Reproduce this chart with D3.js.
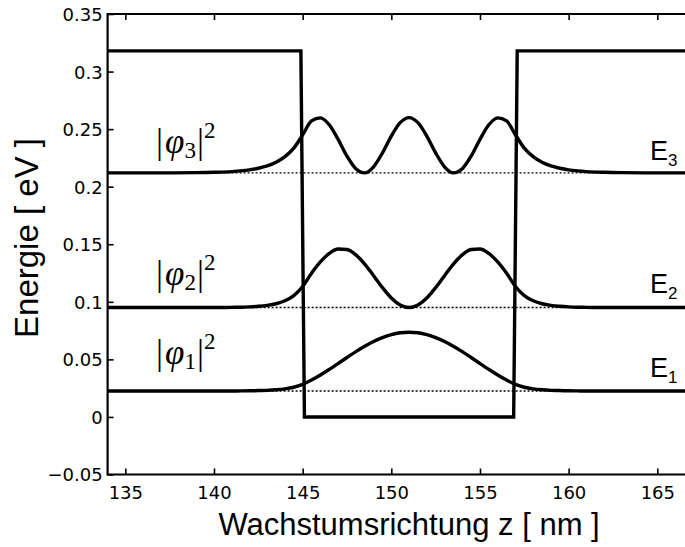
<!DOCTYPE html>
<html>
<head>
<meta charset="utf-8">
<script src="https://cdn.jsdelivr.net/npm/d3@7"></script>
<style>
  html, body { margin: 0; padding: 0; background: #fff; }
  svg { display: block; }
</style>
</head>
<body>
<svg id="chart" width="685" height="547"></svg>
<script>
// Growth-direction coordinate z [nm] shared by all curves
const zPos = [134, 137, 139, 140, 141, 141.5, 142, 142.5, 143, 143.5, 144, 144.5, 145,
  145.5, 146, 146.5, 147, 147.5, 148, 148.5, 149, 149.5, 150, 150.5, 151,
  151.5, 152, 152.5, 153, 153.5, 154, 154.5, 155, 155.5, 156, 156.5, 157,
  157.5, 158, 158.5, 159, 159.5, 160, 160.5, 161, 162, 163, 165, 168];

// |phi_n|^2 drawn on top of its level E_n [eV]
const psi1 = [0.0225, 0.0225, 0.0225, 0.0225, 0.0225, 0.0226, 0.0227, 0.0229, 0.0231, 0.0236, 0.0244, 0.0258, 0.0283,
  0.0320, 0.0364, 0.0413, 0.0464, 0.0516, 0.0567, 0.0614, 0.0655, 0.0689, 0.0715, 0.0731, 0.0736,
  0.0731, 0.0715, 0.0689, 0.0655, 0.0614, 0.0567, 0.0516, 0.0464, 0.0413, 0.0364, 0.0320, 0.0283,
  0.0258, 0.0244, 0.0236, 0.0231, 0.0229, 0.0227, 0.0226, 0.0225, 0.0225, 0.0225, 0.0225, 0.0225];
const psi2 = [0.0950, 0.0950, 0.0950, 0.0950, 0.0952, 0.0953, 0.0956, 0.0961, 0.0969, 0.0983, 0.1009, 0.1054, 0.1133,
  0.1248, 0.1346, 0.1420, 0.1459, 0.1454, 0.1408, 0.1328, 0.1227, 0.1123, 0.1033, 0.0972, 0.0950,
  0.0972, 0.1033, 0.1123, 0.1227, 0.1328, 0.1408, 0.1454, 0.1459, 0.1420, 0.1346, 0.1248, 0.1133,
  0.1054, 0.1009, 0.0983, 0.0969, 0.0961, 0.0956, 0.0953, 0.0952, 0.0950, 0.0950, 0.0950, 0.0950];
const psi3 = [0.2120, 0.2120, 0.2122, 0.2125, 0.2131, 0.2137, 0.2146, 0.2160, 0.2180, 0.2212, 0.2261, 0.2335, 0.2450,
  0.2571, 0.2598, 0.2538, 0.2411, 0.2265, 0.2156, 0.2120, 0.2173, 0.2294, 0.2440, 0.2556, 0.2600,
  0.2556, 0.2440, 0.2294, 0.2173, 0.2120, 0.2156, 0.2265, 0.2411, 0.2538, 0.2598, 0.2571, 0.2450,
  0.2335, 0.2261, 0.2212, 0.2180, 0.2160, 0.2146, 0.2137, 0.2131, 0.2125, 0.2122, 0.2120, 0.2120];

// Band-edge potential of the quantum well
const potZ = [134, 144.9, 145.1, 156.9, 157.1, 168];
const potV = [0.318, 0.318, 0, 0, 0.318, 0.318];

// Bound-state energies E1..E3 [eV]
const levels = [0.0225, 0.095, 0.212];
const levelNames = ["1", "2", "3"];

// Axis ticks
const xTicks = [135, 140, 145, 150, 155, 160, 165];
const yTicks = [-0.05, 0, 0.05, 0.1, 0.15, 0.2, 0.25, 0.3, 0.35];

const svg = d3.select("#chart");
const x = d3.scaleLinear().domain([134, 168]).range([107.6, 710.5]);
const y = d3.scaleLinear().domain([-0.05, 0.35]).range([474.5, 14]);
const x0 = x.range()[0], x1 = x.range()[1];
const yB = y.range()[0], yT = y.range()[1];

const plot = svg.append("g");

// dotted energy levels
plot.selectAll("line.level").data(levels).join("line")
  .attr("class", "level")
  .attr("x1", x(134)).attr("x2", x(168))
  .attr("y1", d => y(d)).attr("y2", d => y(d))
  .attr("stroke", "#000").attr("stroke-width", 1.4)
  .attr("stroke-dasharray", "2,2");

const line = d3.line().x(d => x(d[0])).y(d => y(d[1]));

// potential profile
plot.append("path")
  .datum(d3.zip(potZ, potV))
  .attr("d", line)
  .attr("fill", "none").attr("stroke", "#000").attr("stroke-width", 3.4)
  .attr("stroke-linejoin", "miter");

// probability densities
const smooth = d3.line().x(d => x(d[0])).y(d => y(d[1])).curve(d3.curveMonotoneX);
[psi1, psi2, psi3].forEach(p => {
  plot.append("path")
    .datum(d3.zip(zPos, p))
    .attr("d", smooth)
    .attr("fill", "none").attr("stroke", "#000").attr("stroke-width", 3.4)
    .attr("stroke-linejoin", "round");
});

// axes (box with inward ticks)
const tickFont = "DejaVu Sans, sans-serif";
const axL = svg.append("g").attr("transform", `translate(${x0},0)`)
  .call(d3.axisLeft(y).tickValues(yTicks).tickSizeInner(-6).tickSizeOuter(0).tickPadding(5)
    .tickFormat(d => d3.format("")(+d.toFixed(2))));
const axB = svg.append("g").attr("transform", `translate(0,${yB})`)
  .call(d3.axisBottom(x).tickValues(xTicks).tickSizeInner(-6).tickSizeOuter(0).tickPadding(12));
const axT = svg.append("g").attr("transform", `translate(0,${yT})`)
  .call(d3.axisTop(x).tickValues(xTicks).tickSizeInner(-6).tickSizeOuter(0).tickFormat(""));
[axL, axB, axT].forEach(a => {
  a.select(".domain").remove();
  a.selectAll(".tick line").attr("stroke", "#000").attr("stroke-width", 1.6);
  a.selectAll(".tick text").attr("fill", "#000").style("font-family", tickFont).style("font-size", "18px");
});
axL.selectAll(".tick text").attr("dy", "0.36em");

// frame
svg.append("path")
  .attr("d", `M${x1},${yT}H${x0}V${yB}H${x1}`)
  .attr("fill", "none").attr("stroke", "#000").attr("stroke-width", 2.2);

// axis titles
svg.append("text")
  .attr("transform", `translate(38,238) rotate(-90)`)
  .attr("text-anchor", "middle")
  .style("font-family", "Liberation Sans, Arial, sans-serif").style("font-size", "33px")
  .text("Energie [ eV ]");
svg.append("text")
  .attr("x", (x0 + x1) / 2).attr("y", 535)
  .attr("text-anchor", "middle")
  .style("font-family", "Liberation Sans, Arial, sans-serif").style("font-size", "31px")
  .text("Wachstumsrichtung z [ nm ]");

// |phi_n|^2 labels
const phiBase = [364, 285, 153];
levelNames.forEach((n, i) => {
  const t = svg.append("text")
    .attr("x", 156).attr("y", phiBase[i])
    .style("font-family", "Liberation Serif, 'DejaVu Serif', serif").style("font-size", "35px");
  t.append("tspan").text("|");
  t.append("tspan").style("font-style", "italic").attr("dx", 2).text("φ");
  t.append("tspan").style("font-size", "23px").attr("dy", 5).text(n);
  t.append("tspan").attr("dy", -5).attr("dx", 1).text("|");
  t.append("tspan").style("font-size", "23px").attr("dy", -15).text("2");
});

// E_n labels
const eBase = [377, 293, 160];
levels.forEach((lv, i) => {
  const t = svg.append("text")
    .attr("x", 650).attr("y", eBase[i])
    .style("font-family", "Liberation Sans, Arial, sans-serif").style("font-size", "27px");
  t.append("tspan").text("E");
  t.append("tspan").style("font-size", "17px").attr("dy", 6).text(levelNames[i]);
});
</script>
</body>
</html>
